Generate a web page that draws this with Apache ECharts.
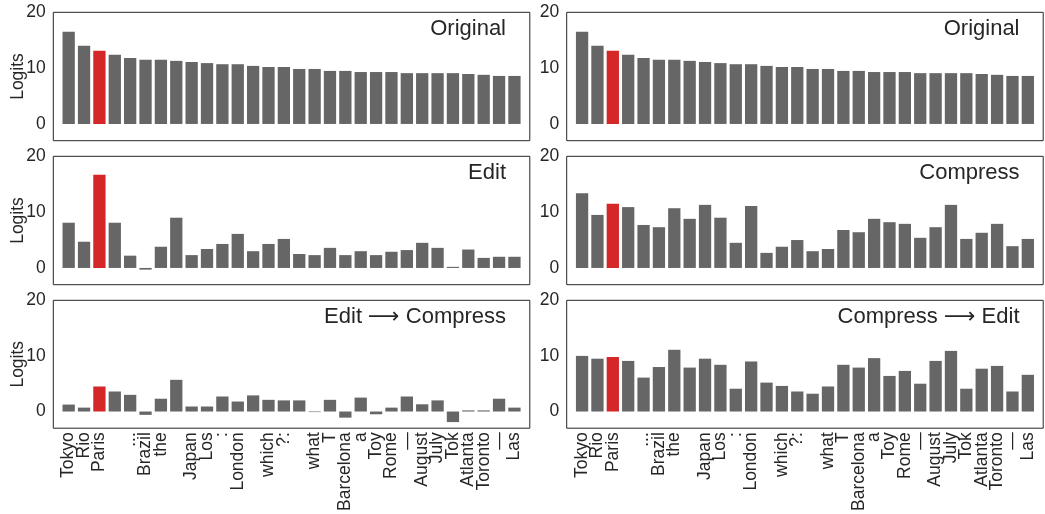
<!DOCTYPE html>
<html>
<head>
<meta charset="utf-8">
<title>Logits</title>
<script src="https://cdn.jsdelivr.net/npm/echarts@6/dist/echarts.min.js"></script>
<style>
  html, body { margin: 0; padding: 0; background: #ffffff; }
  #chart { width: 1045px; height: 514px; }
</style>
</head>
<body>
<div id="chart"></div>
<script>
// Candidate tokens along the x axis
const categories = ['Tokyo', 'Rio', 'Paris', ' ', '...', 'Brazil', 'the', ' ', 'Japan', 'Los',
  ':', 'London', ' ', 'which', '?:', ' ', 'what', 'T', 'Barcelona', 'a',
  'Toy', 'Rome', '\u2014', 'August', 'July', 'Tok', 'Atlanta', 'Toronto', '\u2014', 'Las'];

const targetToken = 'Paris';

// Logit values per panel
const originalLogits = [16.5, 14.0, 13.1, 12.4, 11.8, 11.5, 11.5, 11.3, 11.1, 10.9,
  10.7, 10.7, 10.4, 10.2, 10.2, 9.85, 9.85, 9.5, 9.5, 9.3,
  9.3, 9.3, 9.1, 9.1, 9.1, 9.1, 8.95, 8.8, 8.6, 8.6];
const editLogits = [8.1, 4.7, 16.7, 8.1, 2.2, -0.3, 3.8, 9.0, 2.3, 3.4,
  4.3, 6.1, 3.0, 4.3, 5.2, 2.5, 2.3, 3.6, 2.3, 3.0,
  2.3, 2.9, 3.2, 4.5, 3.6, 0.2, 3.3, 1.8, 2.0, 2.0];
const compressLogits = [13.4, 9.5, 11.5, 10.9, 7.7, 7.3, 10.7, 8.8, 11.3, 9.0,
  4.5, 11.1, 2.7, 3.8, 5.0, 3.0, 3.4, 6.8, 6.4, 8.8,
  8.2, 7.9, 5.4, 7.3, 11.3, 5.2, 6.3, 7.9, 3.9, 5.2];
const editThenCompressLogits = [1.25, 0.7, 4.5, 3.6, 3.0, -0.6, 2.3, 5.7, 0.9, 0.9,
  2.7, 1.8, 2.9, 2.1, 2.0, 2.0, -0.1, 2.1, -1.1, 2.5,
  -0.5, 0.7, 2.7, 1.3, 2.0, -1.9, 0.2, 0.2, 2.3, 0.7];
const compressThenEditLogits = [10.0, 9.5, 9.8, 9.1, 6.1, 8.0, 11.1, 7.9, 9.5, 8.4,
  4.1, 9.0, 5.2, 4.6, 3.6, 3.2, 4.5, 8.4, 7.9, 9.6,
  6.4, 7.3, 5.0, 9.1, 10.9, 4.1, 7.7, 8.2, 3.6, 6.6];

const yTicks = [0, 10, 20];
const yMin = -3, yMax = 20;

// Panel layout: [title parts, values, column, row]; an arrow sits between two parts
const panels = [
  [['Original'], originalLogits, 0, 0],
  [['Original'], originalLogits, 1, 0],
  [['Edit'], editLogits, 0, 1],
  [['Compress'], compressLogits, 1, 1],
  [['Edit', 'Compress'], editThenCompressLogits, 0, 2],
  [['Compress', 'Edit'], compressThenEditLogits, 1, 2]
];

const FONT = '"Liberation Sans", Arial, Helvetica, sans-serif';
const ARROW_FONT = '"DejaVu Sans", sans-serif';
const INK = '#262626';
const BAR = '#666666';
const HIGHLIGHT = '#d62728';

const colLeft = [53.3, 566.7];
const colWidth = 476.5;
const rowTop = [12.3, 156.3, 300.3];
const rowHeight = 128.4;

// One empty slot on each side of the tokens keeps a full bar width of padding
const xData = [''].concat(categories, ['']);
const hiIdx = categories.indexOf(targetToken);

const titleRich = {
  w: { fontSize: 22, fontWeight: 'normal', color: INK, fontFamily: FONT, lineHeight: 24 },
  arr: { fontSize: 22, fontWeight: 'normal', color: INK, fontFamily: ARROW_FONT, lineHeight: 24 }
};

const grids = [], xAxes = [], yAxes = [], series = [], titles = [];
panels.forEach(([parts, values, col, row], i) => {
  grids.push({
    left: colLeft[col], top: rowTop[row], width: colWidth, height: rowHeight,
    show: true, borderColor: INK, borderWidth: 1, backgroundColor: 'transparent',
    containLabel: false
  });
  xAxes.push({
    type: 'category', gridIndex: i, data: xData, boundaryGap: false,
    axisLine: { show: false }, axisTick: { show: false }, splitLine: { show: false },
    axisLabel: {
      show: row === 2, interval: 0, rotate: 90, margin: 4,
      fontSize: 17.5, color: INK, fontFamily: FONT
    }
  });
  yAxes.push({
    type: 'value', gridIndex: i, min: yMin, max: yMax,
    axisLine: { show: false }, axisTick: { show: false }, splitLine: { show: false },
    axisLabel: {
      customValues: yTicks, margin: 7.5, fontSize: 17.5, color: INK, fontFamily: FONT
    },
    name: col === 0 ? 'Logits' : '', nameLocation: 'middle', nameRotate: 90, nameGap: 26,
    nameMoveOverlap: false,
    nameTextStyle: { fontSize: 17.5, color: INK, fontFamily: FONT }
  });
  series.push({
    type: 'bar', xAxisIndex: i, yAxisIndex: i, barCategoryGap: '20%',
    silent: true, animation: false,
    data: ['-'].concat(values.map((v, k) => ({
      value: v,
      itemStyle: { color: k === hiIdx ? HIGHLIGHT : BAR }
    })), ['-'])
  });
  titles.push({
    text: parts.map(p => '{w|' + p + '}').join('{w| }{arr|\u27F6}{w| }'),
    padding: 0,
    right: col === 0 ? 1045 - 506 : 1045 - 1019.5,
    top: rowTop[row] + 5,
    textStyle: { fontWeight: 'normal', fontSize: 22, color: INK, rich: titleRich }
  });
});

const chart = echarts.init(document.getElementById('chart'), null, { renderer: 'canvas' });
chart.setOption({
  animation: false,
  backgroundColor: '#ffffff',
  title: titles,
  grid: grids,
  xAxis: xAxes,
  yAxis: yAxes,
  series: series
});
</script>
</body>
</html>
